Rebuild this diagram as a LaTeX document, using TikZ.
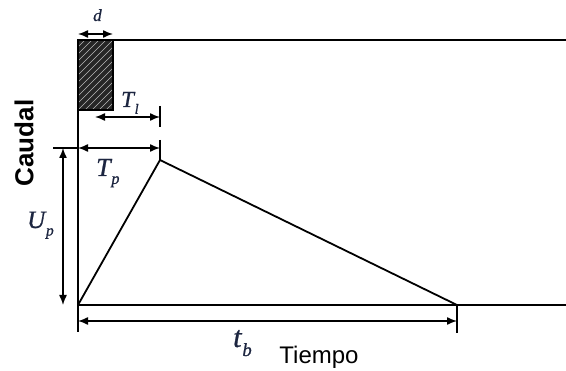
\documentclass[tikz,border=0pt]{standalone}
\usepackage{fontspec}
\newfontfamily\sanslib{Liberation Sans}
\newfontfamily\tnr{Liberation Serif}[ItalicFeatures={FakeBold=0.9}]
\usetikzlibrary{arrows.meta}
\definecolor{lab}{HTML}{1C2540}
\newcommand\slab[3]{\fontsize{#1}{#1}\selectfont\tnr\itshape #2\kern0.03em\raisebox{-0.3em}{\fontsize{\fpeval{#1*0.62}}{10}\selectfont #3}}
\tikzset{
  axisline/.style={line width=1.8pt, black},
  dimline/.style={line width=1.4pt, black, {Latex[length=10pt,width=8pt]}-{Latex[length=10pt,width=8pt]}},
  tickline/.style={line width=1.4pt, black},
  lbl/.style={inner sep=0pt, text=lab, anchor=base west},
}
\begin{document}
\begin{tikzpicture}[x=1pt,y=-1pt]
\useasboundingbox (0,0) rectangle (566,371);
% coordinates
\coordinate (O) at (78,305);
\coordinate (P) at (160,160);
\coordinate (E) at (457,305);
\coordinate (TopL) at (78,40);
\coordinate (TopR) at (566,40);
\coordinate (BotR) at (566,305);
\coordinate (AxB) at (78,332);
% rainfall block
\fill[black!85] (78,40) rectangle (113,110);
\begin{scope}
  \clip (78,40) rectangle (113,110);
  \foreach \k in {0,7,...,120}
    \draw[gray!55, line width=0.5pt] (78,40+\k) -- (113,5+\k);
\end{scope}
\draw[line width=1.3pt] (78,40) rectangle (113,110);
% axes
\draw[axisline] (TopL) -- (TopR);
\draw[axisline] (TopL) -- (AxB);
\draw[axisline] (O) -- (BotR);
% hydrograph
\draw[axisline] (O) -- (P) -- (E);
% ticks
\coordinate (Ta) at (160,106); \coordinate (Tb) at (160,127);
\draw[tickline] (Ta) -- (Tb);
\coordinate (Tc) at (160,140); \coordinate (Td) at (160,160);
\draw[tickline] (Tc) -- (Td);
\coordinate (Ua) at (53,148); \coordinate (Ub) at (78,148);
\draw[tickline] (Ua) -- (Ub);
\coordinate (Ea) at (457,305); \coordinate (Eb) at (457,333);
\draw[tickline] (Ea) -- (Eb);
% dimension arrows
\coordinate (d1) at (78,34); \coordinate (d2) at (113,34);
\draw[dimline] (d1) -- (d2);
\coordinate (l1) at (95,117); \coordinate (l2) at (160,117);
\draw[dimline] (l1) -- (l2);
\coordinate (p1) at (78,148); \coordinate (p2) at (160,148);
\draw[dimline] (p1) -- (p2);
\coordinate (u1) at (63,148); \coordinate (u2) at (63,305);
\draw[dimline] (u1) -- (u2);
\coordinate (b1) at (78,321); \coordinate (b2) at (457,321);
\draw[dimline] (b1) -- (b2);
% labels
\node[lbl, font=\fontsize{17}{17}\selectfont\tnr\itshape] (dl) at (93,21) {d};
\node[lbl] (tl) at (121,107) {\slab{23}{T}{l}};
\node[lbl] (tp) at (96,176) {\slab{26}{T}{p}};
\node[lbl] (up) at (27,228) {\slab{25}{U}{p}};
\node[lbl] (tb) at (233,347) {\slab{30}{t}{b}};
\node[inner sep=0pt, anchor=base, font=\sanslib\fontsize{24}{24}\selectfont] (ti) at (319,364) {Tiempo};
\node[inner sep=0pt, rotate=90, font=\sanslib\bfseries\fontsize{26}{26}\selectfont] (ca) at (24,143) {Caudal};
\end{tikzpicture}
\end{document}
